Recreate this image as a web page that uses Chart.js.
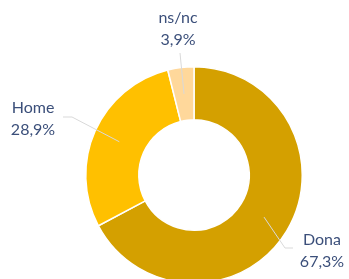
<!DOCTYPE html>
<html>
<head>
<meta charset="utf-8">
<script src="https://cdn.jsdelivr.net/npm/chart.js@4/dist/chart.umd.min.js"></script>
<style>
html,body{margin:0;padding:0;background:#fff;overflow:hidden;width:349px;height:279px;}
#wrap{width:349px;height:290px;}
</style>
</head>
<body>
<div id="wrap"><canvas id="c" width="349" height="290"></canvas></div>
<script>
const categories = ["Dona", "Home", "ns/nc"];
const values = [67.3, 28.9, 3.9];
const colors = ["#D4A000", "#FFC000", "#FFD89B"];

// label placement (offsets from the doughnut centre)
const labelLayout = [
  {elbow: [91, 73], end: [99, 73], text: [128, 70]},
  {elbow: [-122, -58], end: [-131, -58], text: [-161, -62]},
  {elbow: [-14, -122], end: null, text: [-16, -152]}
];

const fmt = v => v.toFixed(1).replace('.', ',') + '%';

const labelPlugin = {
  id: 'labels',
  afterDatasetsDraw(chart) {
    const ctx = chart.ctx;
    const meta = chart.getDatasetMeta(0);
    meta.data.forEach((arc, i) => {
      const p = arc.getProps(['x','y','startAngle','endAngle','innerRadius','outerRadius'], true);
      const mid = (p.startAngle + p.endAngle) / 2;
      const r = (p.innerRadius + p.outerRadius) / 2;
      const sx = p.x + Math.cos(mid) * r;
      const sy = p.y + Math.sin(mid) * r;
      const L = labelLayout[i];
      ctx.save();
      ctx.strokeStyle = '#D9D9D9';
      ctx.lineWidth = 1;
      ctx.beginPath();
      ctx.moveTo(sx, sy);
      ctx.lineTo(p.x + L.elbow[0], p.y + L.elbow[1]);
      if (L.end) ctx.lineTo(p.x + L.end[0], p.y + L.end[1]);
      ctx.stroke();
      ctx.fillStyle = '#3B4F7A';
      ctx.font = '16px Lato, "Open Sans", sans-serif';
      ctx.textAlign = 'center';
      ctx.textBaseline = 'alphabetic';
      const tx = p.x + L.text[0], ty = p.y + L.text[1];
      ctx.fillText(categories[i], tx, ty);
      ctx.fillText(fmt(values[i]), tx, ty + 22);
      ctx.restore();
    });
  }
};

new Chart(document.getElementById('c'), {
  type: 'doughnut',
  data: {
    labels: categories,
    datasets: [{
      data: values,
      backgroundColor: colors,
      borderColor: '#FFFFFF',
      borderWidth: 1.5
    }]
  },
  options: {
    responsive: false,
    animation: false,
    cutout: '51%',
    layout: {padding: {left: 85, right: 46, top: 66, bottom: 6}},
    plugins: {legend: {display: false}, tooltip: {enabled: false}}
  },
  plugins: [labelPlugin]
});
</script>
</body>
</html>
